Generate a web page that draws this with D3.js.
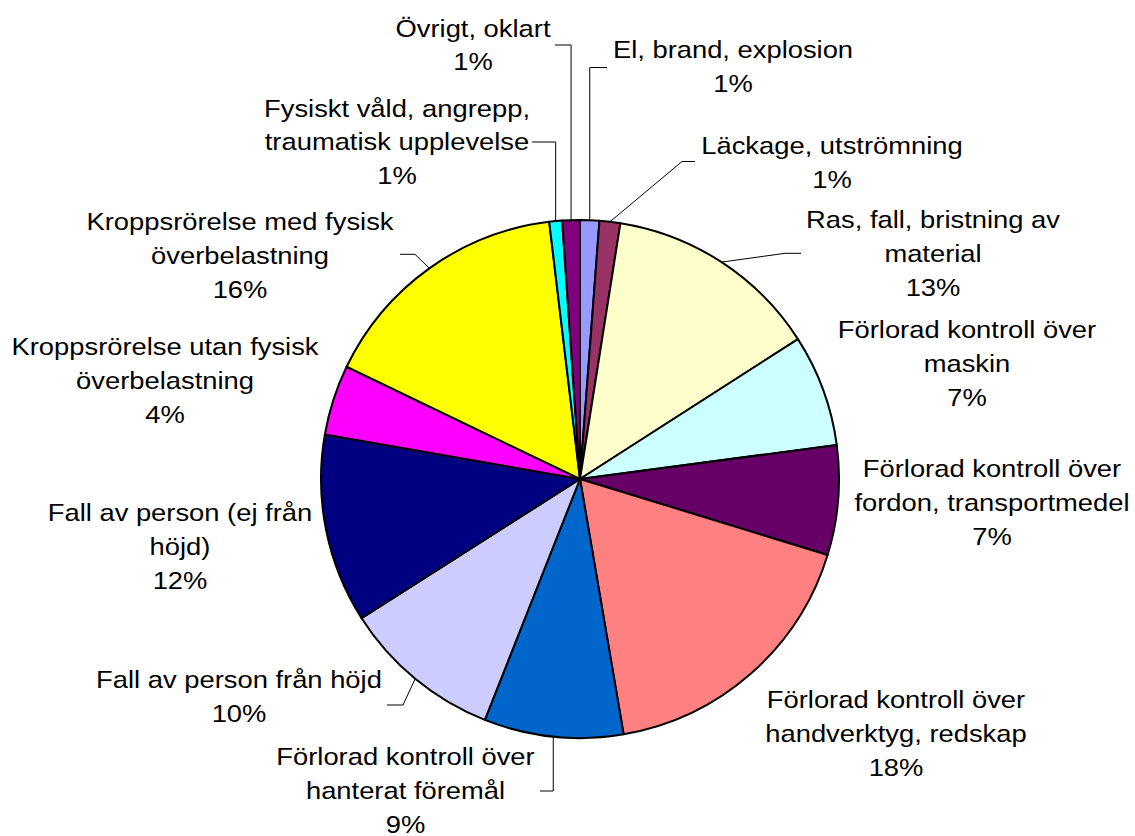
<!DOCTYPE html>
<html>
<head>
<meta charset="utf-8">
<script src="https://cdn.jsdelivr.net/npm/d3@7"></script>
<style>
  html, body { margin: 0; padding: 0; background: #ffffff; }
  svg { display: block; }
  text { font-family: "Liberation Sans", Arial, sans-serif; fill: #000; }
</style>
</head>
<body>
<svg id="chart" width="1135" height="836"></svg>
<script>
// ---- Data ----
const categories = [
  "El, brand, explosion",
  "Läckage, utströmning",
  "Ras, fall, bristning av\nmaterial",
  "Förlorad kontroll över\nmaskin",
  "Förlorad kontroll över\nfordon, transportmedel",
  "Förlorad kontroll över\nhandverktyg, redskap",
  "Förlorad kontroll över\nhanterat föremål",
  "Fall av person från höjd",
  "Fall av person (ej från\nhöjd)",
  "Kroppsrörelse utan fysisk\növerbelastning",
  "Kroppsrörelse med fysisk\növerbelastning",
  "Fysiskt våld, angrepp,\ntraumatisk upplevelse",
  "Övrigt, oklart"
];
const values = [1.2, 1.3, 13.45, 7.0, 6.85, 17.6, 8.7, 10.0, 11.8, 4.4, 16.0, 0.8, 1.1];
const colors = ["#9999FF", "#993366", "#FFFFCC", "#CCFFFF", "#660066", "#FF8080",
                "#0066CC", "#CCCCFF", "#000080", "#FF00FF", "#FFFF00", "#00FFFF", "#800080"];

// ---- Layout (label placement) ----
const cx = 580, cy = 479, R = 259;
const lineH = 33.8, fontSize = 24, stretch = 1.14;
// x: label centre, y: first baseline, leader: text-side points ('A' = use anchor x)
const layout = [
  { x: 733, y: 58,  leader: [[607, 67.5], ['A', 67.5]] },
  { x: 832, y: 154, leader: [[695, 161.5], [682, 161.5]] },
  { x: 933, y: 228, leader: [[801, 253.3], [785, 253.3]] },
  { x: 967, y: 338 },
  { x: 992, y: 477 },
  { x: 896, y: 708 },
  { x: 405.5, y: 765, leader: [[540, 791], ['A', 791]] },
  { x: 239, y: 688, leader: [[387, 705], [403, 705]] },
  { x: 180, y: 521 },
  { x: 165, y: 355 },
  { x: 240, y: 230, leader: [[400, 254.3], [415, 254.3]] },
  { x: 397, y: 116.5, leader: [[532, 142], ['A', 142]] },
  { x: 473, y: 36.7, leader: [[555, 45], ['A', 45]] }
];

const data = categories.map((c, i) => ({ name: c, value: values[i], color: colors[i], i }));
const total = d3.sum(values);

const svg = d3.select("#chart");
const pie = d3.pie().sort(null).value(d => d.value);
const arcs = pie(data);
const arc = d3.arc().innerRadius(0).outerRadius(R);

const g = svg.append("g").attr("transform", `translate(${cx},${cy})`);
g.selectAll("path.slice")
  .data(arcs)
  .enter().append("path")
  .attr("class", "slice")
  .attr("d", arc)
  .attr("fill", d => d.data.color)
  .attr("stroke", "#000")
  .attr("stroke-width", 2)
  .attr("stroke-linejoin", "round");

// Leader lines
arcs.forEach(d => {
  const L = layout[d.data.i];
  if (!L.leader) return;
  const mid = (d.startAngle + d.endAngle) / 2;
  const ax = cx + R * Math.sin(mid);
  const ay = cy - R * Math.cos(mid);
  const pts = L.leader.map(p => [p[0] === 'A' ? ax : p[0], p[1]]);
  pts.push([ax, ay]);
  svg.append("path")
    .attr("d", d3.line()(pts))
    .attr("fill", "none")
    .attr("stroke", "#000")
    .attr("stroke-width", 1);
});

// Labels
arcs.forEach(d => {
  const L = layout[d.data.i];
  const pct = Math.round(d.data.value / total * 100) + "%";
  const lines = d.data.name.split("\n").concat([pct]);
  const t = svg.append("text")
    .attr("transform", `translate(${L.x},${L.y}) scale(${stretch},1)`)
    .attr("text-anchor", "middle")
    .attr("font-size", fontSize);
  lines.forEach((ln, k) => {
    t.append("tspan").attr("x", 0).attr("y", k * lineH).text(ln);
  });
});
</script>
</body>
</html>
